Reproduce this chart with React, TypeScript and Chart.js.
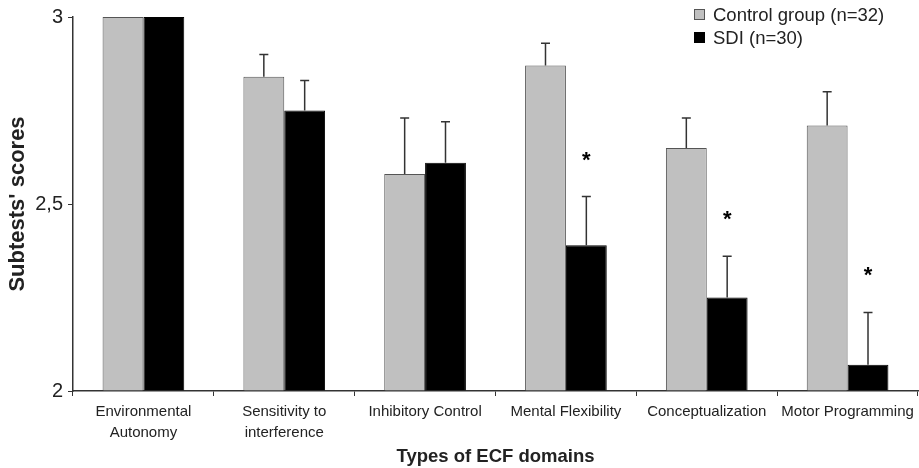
import React, { useEffect, useRef } from "react";
import { Chart, registerables } from "chart.js";

Chart.register(...registerables);

const categories: (string | string[])[] = [
  ["Environmental", "Autonomy"],
  ["Sensitivity to", "interference"],
  "Inhibitory Control",
  "Mental Flexibility",
  "Conceptualization",
  "Motor Programming",
];
const controlMeans = [3.0, 2.84, 2.58, 2.87, 2.65, 2.71];
const controlErrors = [0, 0.06, 0.15, 0.06, 0.08, 0.09];
const sdiMeans = [3.0, 2.75, 2.61, 2.39, 2.25, 2.07];
const sdiErrors = [0, 0.08, 0.11, 0.13, 0.11, 0.14];
const significant = [false, false, false, true, true, true];
const yTicks = [2, 2.5, 3];
const seriesLabels = ["Control group (n=32)", "SDI (n=30)"];

const FONT = "'Liberation Sans', Arial, Helvetica, sans-serif";
const TEXT = "#222";

const errorBarPlugin = {
  id: "errorBars",
  afterDatasetsDraw(chart: any) {
    const { ctx } = chart;
    const yScale = chart.scales.y;
    const errs = [controlErrors, sdiErrors];
    ctx.save();
    ctx.strokeStyle = "#333";
    ctx.lineWidth = 1.5;
    chart.data.datasets.forEach((ds: any, di: number) => {
      const meta = chart.getDatasetMeta(di);
      meta.data.forEach((el: any, i: number) => {
        const e = errs[di][i];
        if (!e) return;
        const top = yScale.getPixelForValue(ds.data[i] + e);
        ctx.beginPath();
        ctx.moveTo(el.x, el.y);
        ctx.lineTo(el.x, top);
        ctx.moveTo(el.x - 4.5, top);
        ctx.lineTo(el.x + 4.5, top);
        ctx.stroke();
      });
    });
    // significance stars above SDI bars
    const meta = chart.getDatasetMeta(1);
    ctx.fillStyle = "#000";
    ctx.font = `bold 22px ${FONT}`;
    ctx.textAlign = "center";
    ctx.textBaseline = "alphabetic";
    meta.data.forEach((el: any, i: number) => {
      if (!significant[i]) return;
      const top = yScale.getPixelForValue(sdiMeans[i] + sdiErrors[i]);
      ctx.fillText("*", el.x, top - 38 + 8);
    });
    ctx.restore();
  },
  afterDraw(chart: any) {
    const { ctx } = chart;
    ctx.save();
    const items = [
      { label: seriesLabels[0], fill: "#c0c0c0", stroke: "#555" },
      { label: seriesLabels[1], fill: "#000", stroke: "#000" },
    ];
    items.forEach((it, i) => {
      const cy = 15 + i * 23;
      ctx.fillStyle = it.fill;
      ctx.strokeStyle = it.stroke;
      ctx.lineWidth = 1;
      ctx.fillRect(694.5, cy - 5.5, 10, 10);
      ctx.strokeRect(694.5, cy - 5.5, 10, 10);
      ctx.fillStyle = TEXT;
      ctx.font = `18.5px ${FONT}`;
      ctx.textAlign = "left";
      ctx.textBaseline = "middle";
      ctx.fillText(it.label, 713, cy + 1);
    });
    ctx.restore();
  },
};

export default function App() {
  const ref = useRef<HTMLCanvasElement>(null);
  useEffect(() => {
    if (!ref.current) return;
    const chart = new Chart(ref.current, {
      type: "bar",
      data: {
        labels: categories as any,
        datasets: [
          {
            label: seriesLabels[0],
            data: controlMeans,
            backgroundColor: "#c0c0c0",
            borderColor: "#555",
            borderWidth: 1,
            base: 2,
            categoryPercentage: 0.58,
            barPercentage: 1,
          } as any,
          {
            label: seriesLabels[1],
            data: sdiMeans,
            backgroundColor: "#000",
            borderColor: "#000",
            borderWidth: 1,
            base: 2,
            categoryPercentage: 0.58,
            barPercentage: 1,
          } as any,
        ],
      },
      options: {
        responsive: false,
        animation: false,
        layout: { padding: { top: 16, right: 1, left: 0, bottom: 0 } },
        plugins: {
          legend: { display: false },
          tooltip: { enabled: false },
        },
        scales: {
          x: {
            offset: true,
            grid: {
              offset: true,
              drawOnChartArea: false,
              drawTicks: true,
              tickLength: 5,
              color: "#333",
              lineWidth: 1,
            },
            border: { display: true, color: "#333", width: 1.5 },
            ticks: {
              color: TEXT,
              font: { family: FONT, size: 15, lineHeight: 1.4 },
              padding: 5,
              maxRotation: 0,
              autoSkip: false,
            },
            title: {
              display: true,
              text: "Types of ECF domains",
              color: TEXT,
              font: { family: FONT, size: 18.5, weight: "bold", lineHeight: 1.2 },
              padding: { top: 0, bottom: 0 },
            },
            afterFit: (s: any) => {
              s.height = 77;
            },
          },
          y: {
            min: 2,
            max: 3,
            afterBuildTicks: (s: any) => {
              s.ticks = yTicks.map((v) => ({ value: v }));
            },
            grid: {
              drawOnChartArea: false,
              drawTicks: true,
              tickLength: 5,
              color: "#333",
            },
            border: { display: true, color: "#333", width: 1.5 },
            ticks: {
              color: TEXT,
              font: { family: FONT, size: 20 },
              padding: 5,
              callback: (v: any) => String(v).replace(".", ","),
            },
            title: {
              display: true,
              text: "Subtests' scores",
              color: TEXT,
              font: { family: FONT, size: 22, weight: "bold", lineHeight: 1.2 },
              padding: { top: 5, bottom: 0 },
            },
            afterFit: (s: any) => {
              s.width = 73;
            },
          },
        },
      },
      plugins: [errorBarPlugin],
    });
    return () => chart.destroy();
  }, []);
  return (
    <div style={{ position: "fixed", left: 0, top: 0, width: 919, height: 468, background: "#fff" }}>
      <canvas ref={ref} width={919} height={468} style={{ display: "block" }} />
    </div>
  );
}
